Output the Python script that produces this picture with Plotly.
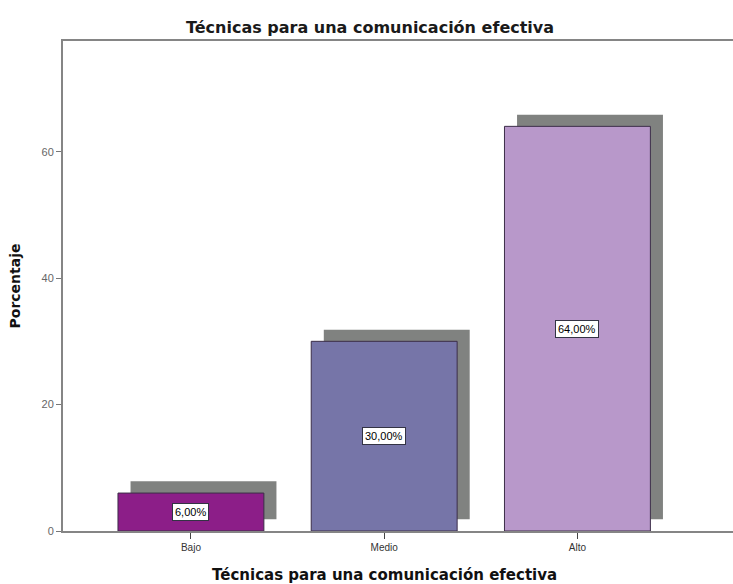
import plotly.graph_objects as go

categories = ["Bajo", "Medio", "Alto"]
percentages = [6.0, 30.0, 64.0]
bar_colors = ["#8C1E88", "#7675A8", "#B898CA"]
y_ticks = [0, 20, 40, 60]
title_text = "Técnicas para una comunicación efectiva"

bar_width = 0.755
shadow_dx = 0.065
shadow_dy = 1.85

W, H = 733, 584
ML, MR, MT, MB = 63, 0, 41, 53
plot_w = W - ML - MR
plot_h = H - MT - MB

fig = go.Figure()

# shadow bars
fig.add_trace(go.Bar(
    x=categories, y=percentages, base=[shadow_dy] * len(percentages),
    width=bar_width, offset=-bar_width / 2 + shadow_dx,
    marker=dict(color="#808280", line=dict(width=0)),
    hoverinfo="skip", showlegend=False,
))
# front bars
fig.add_trace(go.Bar(
    x=categories, y=percentages,
    width=bar_width, offset=-bar_width / 2,
    marker=dict(color=bar_colors, line=dict(color="#3C2E48", width=1)),
    showlegend=False,
))

for c, v in zip(categories, percentages):
    fig.add_annotation(
        x=c, y=v / 2, xref="x", yref="y",
        text=f"{v:.2f}%".replace(".", ","), showarrow=False,
        font=dict(family="Liberation Sans, Arial", size=11, color="#000000"),
        bgcolor="#FFFFFF", bordercolor="#333344", borderwidth=1, borderpad=2,
    )

# x axis title (annotation, paper coords are relative to plot area)
fig.add_annotation(
    x=(384 - ML) / plot_w, y=(H - MB - 575) / plot_h, xref="paper", yref="paper",
    xanchor="center", yanchor="middle", showarrow=False,
    text="<b>" + title_text + "</b>",
    font=dict(family="DejaVu Sans", size=15, color="#111111"),
)

fig.update_layout(
    width=W, height=H,
    margin=dict(l=ML, r=MR, t=MT, b=MB),
    paper_bgcolor="white", plot_bgcolor="white",
    barmode="overlay",
    title=dict(text="<b>" + title_text + "</b>", x=370 / W, xanchor="center",
               y=1 - 27 / H, yanchor="middle",
               font=dict(family="DejaVu Sans", size=16, color="#1A1A1A")),
    xaxis=dict(
        range=[-0.662, 2.805], showgrid=False, zeroline=False,
        showline=True, linecolor="#858585", linewidth=2, mirror=True,
        ticks="outside", ticklen=6, tickcolor="#444444", tickwidth=1,
        tickfont=dict(family="Liberation Sans, Arial", size=10, color="#333333"),
    ),
    yaxis=dict(
        range=[0, 77.5], tickvals=y_ticks, showgrid=False, zeroline=False,
        showline=True, linecolor="#858585", linewidth=2,
        ticks="outside", ticklen=5, tickcolor="#777777",
        tickfont=dict(family="Liberation Sans, Arial", size=11, color="#666666"),
        title=dict(text="<b>Porcentaje</b>", standoff=18,
                   font=dict(family="DejaVu Sans", size=14, color="#111111")),
    ),
)

fig.write_html("out.html")
